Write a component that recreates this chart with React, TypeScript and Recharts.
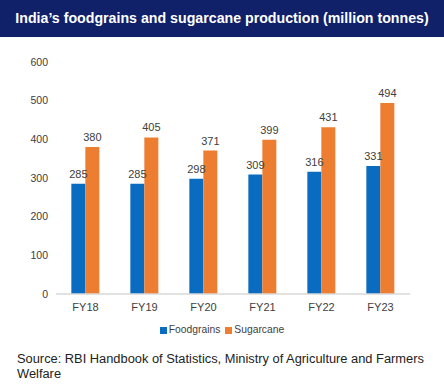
import { BarChart, Bar, XAxis, YAxis, Legend, LabelList } from 'recharts';

const years = ['FY18', 'FY19', 'FY20', 'FY21', 'FY22', 'FY23'];
const foodgrains = [285, 285, 298, 309, 316, 331];
const sugarcane = [380, 405, 371, 399, 431, 494];
const yTicks = [0, 100, 200, 300, 400, 500, 600];
const seriesNames = ['Foodgrains', 'Sugarcane'];
const seriesColors = ['#0A6CC1', '#ED7D31'];

const data = years.map((y, i) => ({ year: y, Foodgrains: foodgrains[i], Sugarcane: sugarcane[i] }));

const FONT = '"Liberation Sans", Arial, sans-serif';

// legend drawn by hand so spacing matches the tight Excel look
const renderLegend = () => (
  <div style={{ width: 444, display: 'flex', justifyContent: 'center', fontSize: 10.3, color: '#404040', fontFamily: FONT, lineHeight: '14px' }}>
    {seriesNames.map((name, i) => (
      <span key={name} style={{ display: 'flex', alignItems: 'center', marginRight: i === 0 ? 5 : 0 }}>
        <span style={{ width: 7, height: 7, background: seriesColors[i], display: 'inline-block', marginRight: 2 }} />
        {name}
      </span>
    ))}
  </div>
);

export default function App() {
  return (
    <div style={{ position: 'absolute', top: 0, left: 0, width: 444, height: 388, background: '#fff', fontFamily: FONT }}>
      <div
        style={{
          height: 37,
          background: '#10216A',
          color: '#fff',
          fontWeight: 700,
          fontSize: 14.2,
          lineHeight: '37px',
          textAlign: 'center',
        }}
      >
        India’s foodgrains and sugarcane production (million tonnes)
      </div>
      <div style={{ position: 'absolute', top: 37, left: 0 }}>
        <BarChart
          width={444}
          height={310}
          data={data}
          margin={{ top: 25, right: 34, left: 0, bottom: 10 }}
          barCategoryGap="26%"
          barGap={0}
        >
          <XAxis
            dataKey="year"
            tickLine={false}
            axisLine={{ stroke: '#D9D9D9', strokeWidth: 1.5 }}
            tick={{ fill: '#404040', fontSize: 11, fontFamily: FONT }}
            tickMargin={3}
            height={29}
          />
          <YAxis
            domain={[0, 600]}
            ticks={yTicks}
            width={56}
            tickLine={false}
            axisLine={false}
            tickMargin={2}
            tick={{ fill: '#404040', fontSize: 10.5, fontFamily: FONT }}
          />
          <Legend
            verticalAlign="bottom"
            height={14}
            content={renderLegend}
            wrapperStyle={{ left: 0, width: 444 }}
          />
          <Bar dataKey="Foodgrains" fill={seriesColors[0]} isAnimationActive={false}>
            <LabelList dataKey="Foodgrains" position="top" offset={6} fill="#404040" fontSize={11} fontFamily={FONT} />
          </Bar>
          <Bar dataKey="Sugarcane" fill={seriesColors[1]} isAnimationActive={false}>
            <LabelList dataKey="Sugarcane" position="top" offset={6} fill="#404040" fontSize={11} fontFamily={FONT} />
          </Bar>
        </BarChart>
      </div>
      <div
        style={{
          position: 'absolute',
          top: 351,
          left: 17,
          right: 10,
          fontSize: 12.85,
          lineHeight: '15px',
          color: '#222',
        }}
      >
        Source: RBI Handbook of Statistics, Ministry of Agriculture and Farmers Welfare
      </div>
    </div>
  );
}
